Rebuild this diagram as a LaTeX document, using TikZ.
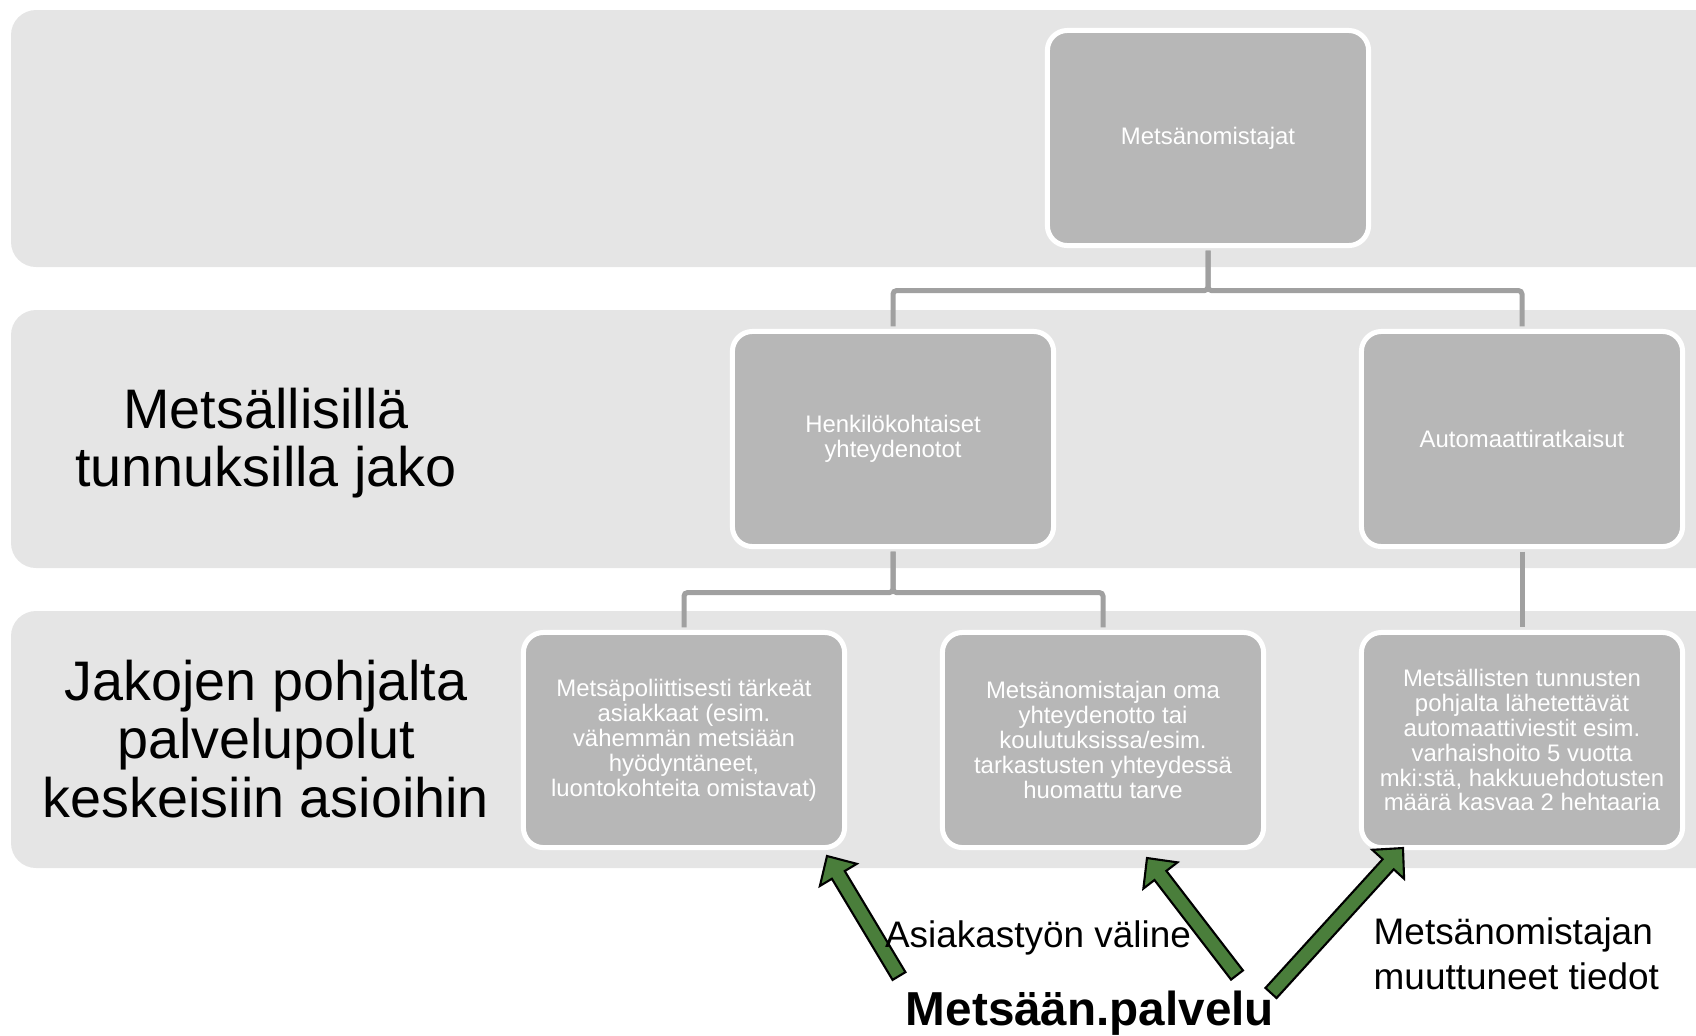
\documentclass[tikz,border=0pt]{standalone}
\usepackage{fontspec}
\setmainfont{Liberation Sans}
\usetikzlibrary{calc}
\definecolor{bandgray}{RGB}{229,229,229}
\definecolor{boxgray}{RGB}{183,183,183}
\definecolor{linegray}{RGB}{160,160,160}
\definecolor{arrowgreen}{RGB}{74,126,59}

\newcommand{\boxfont}{\fontsize{6.8pt}{7.1pt}\selectfont}
\newcommand{\bigfont}{\fontsize{15.85pt}{16.6pt}\selectfont}
\newcommand{\midfont}{\fontsize{10.5pt}{12.8pt}\selectfont}

% block arrow from tail #1 to tip #2
\newcommand{\blockarrow}[2]{%
  \coordinate (hb) at ($(#2)!0.22cm!(#1)$);
  \draw[arrowline] ($(#1)!0.075cm!90:(#2)$) -- ($(hb)!0.075cm!90:(#2)$)
    -- ($(hb)!0.215cm!90:(#2)$) -- (#2) -- ($(hb)!0.215cm!-90:(#2)$)
    -- ($(hb)!0.075cm!-90:(#2)$) -- ($(#1)!0.075cm!-90:(#2)$) -- cycle;}

\begin{document}
\begin{tikzpicture}[x=0.01cm, y=-0.01cm,
    band/.style={fill=bandgray, rounded corners=0.25cm},
    box/.style={draw=white, line width=0.05cm, fill=boxgray, rounded corners=0.2cm,
      minimum width=3.21cm, minimum height=2.15cm, inner sep=0pt,
      align=center, text=white, font=\boxfont},
    conn/.style={draw=linegray, line width=0.05cm, rounded corners=1pt,
      shorten <=0.025cm, shorten >=0.025cm},
    arrowline/.style={draw=black, fill=arrowgreen, line width=0.6pt, line join=miter}]
    \useasboundingbox (0,0) rectangle (1696,1035);
    \clip (0,0) rectangle (1696,1035);
    % bands
    \fill[band] (11,10) rectangle (1760,267);
    \fill[band] (11,310) rectangle (1760,568);
    \fill[band] (11,611) rectangle (1760,868);

    % boxes
    \node[box] (owners) at (1208,138) {Metsänomistajat};
    \node[box] (personal) at (893,439) {Henkilökohtaiset\\yhteydenotot};
    \node[box] (auto) at (1522,439) {Automaattiratkaisut};
    \node[box] (policy) at (684,740) {Metsäpoliittisesti tärkeät\\asiakkaat (esim.\\vähemmän metsiään\\hyödyntäneet,\\luontokohteita omistavat)};
    \node[box] (own) at (1103,740) {Metsänomistajan oma\\yhteydenotto tai\\koulutuksissa/esim.\\tarkastusten yhteydessä\\huomattu tarve};
    \node[box] (msgs) at (1522,740) {Metsällisten tunnusten\\pohjalta lähetettävät\\automaattiviestit esim.\\varhaishoito 5 vuotta\\mki:stä, hakkuuehdotusten\\määrä kasvaa 2 hehtaaria};

    % connectors
    \draw[conn] (owners.south) -- ++(0,42.5) -| (personal.north);
    \draw[conn] (owners.south) -- ++(0,42.5) -| (auto.north);
    \draw[conn] (personal.south) -- ++(0,43.5) -| (policy.north);
    \draw[conn] (personal.south) -- ++(0,43.5) -| (own.north);
    \draw[conn] (auto.south) -- (msgs.north);

    % arrows
    \coordinate (tail1) at (899,976);
    \coordinate (tip1) at (827,856);
    \coordinate (tail2) at (1237,975);
    \coordinate (tip2) at (1147,858);
    \coordinate (tail3) at (1271,993);
    \coordinate (tip3) at (1403,848);
    \blockarrow{tail1}{tip1}
    \blockarrow{tail2}{tip2}
    \blockarrow{tail3}{tip3}

    % text
    \node[align=center, font=\bigfont, inner sep=0pt] (sharing) at (266,443) {Metsällisillä\\tunnuksilla jako};
    \node[align=center, font=\bigfont, inner sep=0pt] (paths) at (266,739) {Jakojen pohjalta\\palvelupolut\\keskeisiin asioihin};
    \node[anchor=base, font=\midfont, inner sep=0pt] (tool) at (1038,947) {Asiakastyön väline};
    \node[anchor=west, align=left, font=\midfont, inner sep=0pt] (changed) at (1373,954) {Metsänomistajan\\muuttuneet tiedot};
    \node[anchor=base, font=\fontsize{13.55pt}{16pt}\selectfont\bfseries, inner sep=0pt] (service) at (1090,1025) {Metsään.palvelu};
\end{tikzpicture}
\end{document}
